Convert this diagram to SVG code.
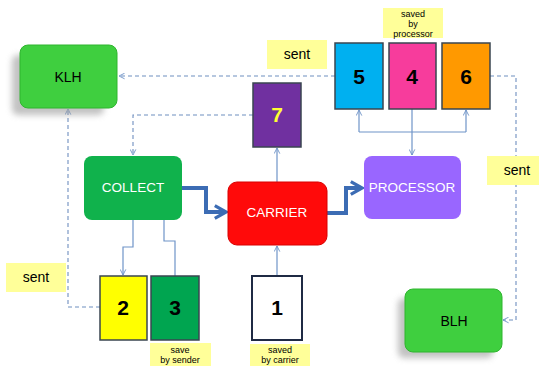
<svg xmlns="http://www.w3.org/2000/svg" width="539" height="366" viewBox="0 0 539 366">
<style>
text{font-family:"Liberation Sans",Arial,sans-serif;text-anchor:middle}
.big{font-size:13.5px;fill:#fff}
.num{font-size:21px;font-weight:bold;fill:#000}
.lbl{font-size:14px;fill:#000}
.sm{font-size:9px;fill:#000}
.note{fill:#ffff99}
.card{stroke:#3a4550;stroke-width:1.5}
.thin{fill:none;stroke:#6f94c8;stroke-width:1.2}
.dash{fill:none;stroke:#6f8fc0;stroke-width:1.1;stroke-dasharray:4 3}
.thick{fill:none;stroke:#3c6cb4;stroke-width:4}
</style>
<defs>
<marker id="a" viewBox="0 0 10 10" refX="9" refY="5" markerWidth="7" markerHeight="7" orient="auto" markerUnits="userSpaceOnUse"><path d="M1,1 L9,5 L1,9" fill="none" stroke="#6f94c8" stroke-width="1.3"/></marker>
<marker id="b" viewBox="0 0 10 10" refX="8" refY="5" markerWidth="4" markerHeight="4" orient="auto"><path d="M1,1 L8,5 L1,9" fill="none" stroke="#3c6cb4" stroke-width="2"/></marker>
<filter id="sh" x="-30%" y="-30%" width="160%" height="160%"><feGaussianBlur stdDeviation="3"/></filter>
</defs>
<rect width="539" height="366" fill="#fff"/>

<g id="connectors">
<path class="dash" d="M335,76 H119" marker-end="url(#a)"/>
<path class="dash" d="M490,76 H516 V320 H503" marker-end="url(#a)"/>
<path class="dash" d="M253,115 H133 V155" marker-end="url(#a)"/>
<path class="dash" d="M100,307 H68 V109" marker-end="url(#a)"/>
<path class="thin" d="M133,220 V247 H123 V275" marker-end="url(#a)"/>
<path class="thin" d="M175,276 V241 H164 V207" marker-end="url(#a)"/>
<path class="thin" d="M277,276 V246" marker-end="url(#a)"/>
<path class="thin" d="M277,182 V148" marker-end="url(#a)"/>
<path class="thin" d="M412,109 V155" marker-end="url(#a)"/>
<path class="thin" d="M359,132 H466"/>
<path class="thin" d="M359,132 V110" marker-end="url(#a)"/>
<path class="thin" d="M466,132 V110" marker-end="url(#a)"/>
<path class="thick" d="M182,188 H206 V212 H226" marker-end="url(#b)"/>
<path class="thick" d="M327,213 H346 V188 H362" marker-end="url(#b)"/>
</g>

<g id="KLH">
<rect x="12" y="55" width="92" height="60" rx="6" fill="#999" opacity="0.6" filter="url(#sh)"/>
<rect x="20" y="45" width="97" height="63" rx="8" fill="#3fcf3f" stroke="#2fb52f"/>
<text class="lbl" x="68" y="82">KLH</text>
</g>

<g id="BLH">
<rect x="398" y="298" width="95" height="60" rx="6" fill="#999" opacity="0.6" filter="url(#sh)"/>
<rect x="405" y="289" width="97" height="63" rx="8" fill="#3fcf3f" stroke="#2fb52f"/>
<text class="lbl" x="454" y="326">BLH</text>
</g>

<g id="COLLECT">
<rect x="84" y="156" width="98" height="64" rx="8" fill="#10b24c"/>
<text class="big" x="133" y="192">COLLECT</text>
</g>

<g id="CARRIER">
<rect x="228" y="182" width="99" height="63" rx="9" fill="#ff0a0a" stroke="#d80000"/>
<text class="big" x="277" y="217">CARRIER</text>
</g>

<g id="PROCESSOR">
<rect x="364" y="156" width="97" height="63" rx="8" fill="#9966ff"/>
<text class="big" x="412" y="192">PROCESSOR</text>
</g>

<g id="box7">
<rect class="card" x="253" y="83" width="48" height="64" fill="#7030a0"/>
<text class="num" x="277" y="122" style="fill:#ffff33">7</text>
</g>

<g id="box5">
<rect class="card" x="335" y="43" width="48" height="66" fill="#00b0f0"/>
<text class="num" x="359" y="84">5</text>
</g>
<g id="box4">
<rect class="card" x="389" y="43" width="47" height="66" fill="#f73c9c"/>
<text class="num" x="412" y="84">4</text>
</g>
<g id="box6">
<rect class="card" x="442" y="43" width="48" height="66" fill="#ff9900"/>
<text class="num" x="466" y="84">6</text>
</g>

<g id="box2">
<rect class="card" x="100" y="276" width="47" height="64" fill="#ffff00"/>
<text class="num" x="123" y="315">2</text>
</g>
<g id="box3">
<rect class="card" x="151" y="276" width="48" height="64" fill="#00a550"/>
<text class="num" x="175" y="315">3</text>
</g>
<g id="box1">
<rect x="252" y="276" width="50" height="64" fill="#fff" stroke="#1f2a44" stroke-width="2"/>
<text class="num" x="277" y="315">1</text>
</g>

<g id="note-sent-top">
<rect class="note" x="267" y="40" width="60" height="29"/>
<text class="lbl" x="297" y="59">sent</text>
</g>
<g id="note-sent-left">
<rect class="note" x="6" y="263" width="60" height="29"/>
<text class="lbl" x="36" y="282">sent</text>
</g>
<g id="note-sent-right">
<rect class="note" x="487" y="156" width="52" height="29"/>
<text class="lbl" x="517" y="175">sent</text>
</g>
<g id="note-processor">
<rect class="note" x="383" y="8" width="60" height="30"/>
<text class="sm" x="413" y="17">saved</text>
<text class="sm" x="413" y="27">by</text>
<text class="sm" x="413" y="37">processor</text>
</g>
<g id="note-sender">
<rect class="note" x="150" y="343" width="61" height="23"/>
<text class="sm" x="180" y="353">save</text>
<text class="sm" x="180" y="363">by sender</text>
</g>
<g id="note-carrier">
<rect class="note" x="250" y="344" width="60" height="22"/>
<text class="sm" x="280" y="353">saved</text>
<text class="sm" x="280" y="363">by carrier</text>
</g>
</svg>
